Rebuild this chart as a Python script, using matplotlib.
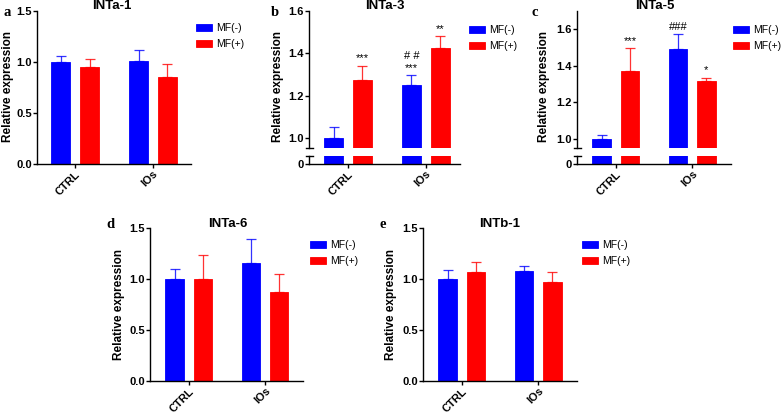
import matplotlib
matplotlib.use("Agg")
import matplotlib.pyplot as plt
import numpy as np

plt.rcParams['font.family'] = ['Liberation Sans', 'DejaVu Sans']

groups = ['CTRL', 'IOs']
series = ['MF(-)', 'MF(+)']
colors = ['#0000ff', '#ff0000']

titles = ['INTa-1', 'INTa-3', 'INTa-5', 'INTa-6', 'INTb-1']
letters = ['a', 'b', 'c', 'd', 'e']

a_neg_mean = [1.00, 1.005]; a_neg_sd = [0.06, 0.112]
a_pos_mean = [0.95, 0.855]; a_pos_sd = [0.08, 0.125]
b_neg_mean = [1.00, 1.248]; b_neg_sd = [0.05, 0.047]
b_pos_mean = [1.275, 1.425]; b_pos_sd = [0.067, 0.055]
c_neg_mean = [1.00, 1.49]; c_neg_sd = [0.02, 0.082]
c_pos_mean = [1.37, 1.32]; c_pos_sd = [0.125, 0.012]
d_neg_mean = [1.00, 1.155]; d_neg_sd = [0.095, 0.235]
d_pos_mean = [1.00, 0.872]; d_pos_sd = [0.232, 0.175]
e_neg_mean = [1.00, 1.075]; e_neg_sd = [0.092, 0.053]
e_pos_mean = [1.065, 0.97]; e_pos_sd = [0.105, 0.10]

# significance annotations: (group index, series index, text)
b_marks = [(0, 1, '***'), (1, 0, '***'), (1, 0, '# #'), (1, 1, '**')]
c_marks = [(0, 1, '***'), (1, 0, '###'), (1, 1, '*')]

W, H = 784, 413
fig = plt.figure(figsize=(W / 100, H / 100), dpi=100)


def rect(l, t, r, b):
    return [l / W, 1 - b / H, (r - l) / W, (b - t) / H]


OFF = 0.185
BW = 0.245
TICK_FS = 8


def style(ax, left=True, bottom=True):
    for s in ['top', 'right']:
        ax.spines[s].set_visible(False)
    ax.spines['left'].set_visible(left)
    ax.spines['bottom'].set_visible(bottom)
    for s in ['left', 'bottom']:
        ax.spines[s].set_linewidth(1.0)
    ax.tick_params(axis='both', width=1.0, length=2.8, labelsize=TICK_FS, pad=0.8)
    for lab in ax.get_yticklabels():
        lab.set_fontweight('bold')


def draw_bars(ax, means, sds):
    x = np.arange(len(groups))
    for i, (m, s) in enumerate(zip(means, sds)):
        pos = x + (i * 2 - 1) * OFF
        ax.bar(pos, m, width=BW, color=colors[i], edgecolor=colors[i], linewidth=0.6,
               label=series[i], zorder=2)
        ax.errorbar(pos, m, yerr=[np.zeros(len(m)), s], fmt='none', ecolor=colors[i],
                    elinewidth=0.9, capsize=3.6, capthick=0.9, zorder=1, alpha=0.8)


def xlabels(ax):
    ax.set_xticks(np.arange(len(groups)))
    ax.set_xticklabels(groups, rotation=45, ha='right', va='top', rotation_mode='anchor',
                       fontweight='bold', fontsize=8.5)


def legend(ax, x, y):
    ax.legend(loc='upper left', bbox_to_anchor=(x / W, 1 - y / H), bbox_transform=fig.transFigure,
              frameon=False, fontsize=7.5, handlelength=1.5, handleheight=0.7,
              handletextpad=0.4, labelspacing=0.6, borderpad=0, borderaxespad=0)


def labels(letter, lx, ly, title, tx, ty, ylx, yly):
    fig.text(lx / W, 1 - ly / H, letter, family='Liberation Serif', fontweight='bold',
             fontsize=10.5, ha='center', va='center')
    fig.text(tx / W, 1 - ty / H, title, fontweight='bold', fontsize=9.5, ha='center', va='center')
    fig.text(ylx / W, 1 - yly / H, 'Relative expression', fontweight='bold', fontsize=8.5,
             rotation=90, ha='center', va='center')


def simple_panel(box, xlim, means, sds, leg, lab):
    ax = fig.add_axes(rect(*box))
    draw_bars(ax, means[0:2], sds[0:2])
    ax.set_ylim(0, 1.5)
    ax.set_yticks([0, 0.5, 1.0, 1.5])
    ax.set_yticklabels(['0.0', '0.5', '1.0', '1.5'])
    ax.set_xlim(*xlim)
    xlabels(ax)
    style(ax)
    legend(ax, *leg)
    labels(*lab)
    return ax


def broken_panel(box, gap_px, xlim, upper_lim, upper_ticks, means, sds, marks, leg, lab):
    l, t, r, b = box
    brk_top, brk_bot = gap_px
    axu = fig.add_axes(rect(l, t, r, brk_top))
    axl = fig.add_axes(rect(l, brk_bot, r, b))
    for ax in (axu, axl):
        draw_bars(ax, means, sds)
        ax.set_xlim(*xlim)
    axu.set_ylim(*upper_lim)
    axu.set_yticks(upper_ticks)
    axu.set_yticklabels([f'{v:.1f}' for v in upper_ticks])
    axu.set_xticks([])
    axl.set_ylim(0, 0.04)
    axl.set_yticks([0])
    axl.set_yticklabels(['0'])
    xlabels(axl)
    style(axu, bottom=False)
    style(axl)
    # break marks
    hw = 3.5 / (r - l)
    axu.plot([-hw, hw], [0, 0], transform=axu.transAxes, color='black', lw=1.0, clip_on=False)
    axl.plot([-hw, hw], [1, 1], transform=axl.transAxes, color='black', lw=1.0, clip_on=False)
    # annotations
    x = np.arange(len(groups))
    stacked = {}
    for gi, si, txt in marks:
        pos = x[gi] + (si * 2 - 1) * OFF
        top = means[si][gi] + sds[si][gi]
        k = stacked.get((gi, si), 0)
        stacked[(gi, si)] = k + 1
        axu.annotate(txt, (pos, top), xytext=(0, 2 + k * 8.5), textcoords='offset points',
                     ha='center', va='bottom', fontsize=8, clip_on=False)
    legend(axu, *leg)
    labels(*lab)
    return axu, axl


simple_panel((37, 11, 191, 164), (-0.49, 1.49),
             [a_neg_mean, a_pos_mean], [a_neg_sd, a_pos_sd],
             (196, 23),
             ('a', 7, 12, titles[0], 112, 6, 8, 87))

broken_panel((309, 11, 460, 164), (148, 156), (-0.5, 1.44), (0.952, 1.6), [1.0, 1.2, 1.4, 1.6],
             [b_neg_mean, b_pos_mean], [b_neg_sd, b_pos_sd], b_marks,
             (469, 25),
             ('b', 275, 12, titles[1], 385, 6, 278, 87))

broken_panel((577, 11, 731, 164), (148, 156), (-0.51, 1.51), (0.951, 1.70), [1.0, 1.2, 1.4, 1.6],
             [c_neg_mean, c_pos_mean], [c_neg_sd, c_pos_sd], c_marks,
             (733, 25),
             ('c', 535, 12, titles[2], 655, 6, 544, 87))

simple_panel((150, 228, 303, 381), (-0.51, 1.5),
             [d_neg_mean, d_pos_mean], [d_neg_sd, d_pos_sd],
             (310, 240),
             ('d', 110, 225, titles[3], 228, 224, 119, 304))

simple_panel((423, 228, 577, 381), (-0.51, 1.51),
             [e_neg_mean, e_pos_mean], [e_neg_sd, e_pos_sd],
             (582, 240),
             ('e', 383, 225, titles[4], 500, 224, 391, 304))

fig.savefig('out.png', dpi=100)
